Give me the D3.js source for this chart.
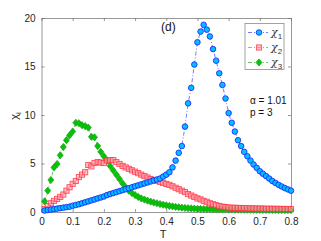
<!DOCTYPE html>
<html><head><meta charset="utf-8">
<script src="https://cdn.jsdelivr.net/npm/d3@7"></script>
<style>body{margin:0;background:#fff}svg{display:block}text{font-family:"Liberation Sans",Arial,sans-serif}</style>
</head><body><svg id="c" width="321" height="241"></svg>
<script>
const T = d3.range(1, 81).map(i => +(i * 0.01).toFixed(2));
const chi1 = [0.15,0.2,0.25,0.3,0.35,0.4,0.45,0.5,0.55,0.65,0.72,0.8,0.9,1.0,1.1,1.2,1.3,1.4,1.5,1.6,
  1.75,1.85,1.95,2.05,2.15,2.25,2.35,2.45,2.55,2.65,2.75,2.85,2.95,3.05,3.15,3.25,3.35,3.45,3.65,3.85,
  4.1,4.6,5.3,6.1,6.8,8.8,11.2,12.8,15.2,17.5,18.6,19.3,18.8,18.1,16.8,15.6,14.3,13.1,11.7,10.2,
  9.2,8.3,7.4,6.8,6.2,5.75,5.3,4.9,4.55,4.2,3.95,3.7,3.45,3.2,3.0,2.8,2.63,2.47,2.33,2.2];
const chi2 = [0.3,0.6,0.9,1.15,1.35,1.55,1.8,2.2,2.55,2.9,3.2,3.6,3.85,4.1,4.85,4.7,5.05,5.15,5.1,5.05,
  5.3,5.35,5.35,5.15,4.95,4.75,4.6,4.45,4.3,4.15,4.0,3.85,3.7,3.55,3.4,3.3,3.2,3.1,3.0,2.9,
  2.8,2.65,2.5,2.35,2.2,2.05,1.85,1.7,1.55,1.4,1.3,1.15,1.05,0.9,0.8,0.7,0.62,0.55,0.5,0.46,
  0.44,0.43,0.42,0.41,0.4,0.39,0.38,0.37,0.36,0.36,0.35,0.34,0.34,0.33,0.33,0.32,0.32,0.31,0.31,0.3];
const chi3 = [1.1,2.2,3.3,4.6,4.95,5.85,6.7,7.4,7.9,8.3,9.2,9.15,8.95,8.85,8.7,7.75,7.7,6.8,6.2,5.75,
  5.3,4.75,4.3,3.85,3.4,2.95,2.55,2.2,1.95,1.75,1.55,1.4,1.28,1.17,1.07,0.98,0.9,0.82,0.75,0.69,
  0.63,0.58,0.53,0.49,0.45,0.42,0.39,0.37,0.35,0.33,0.32,0.31,0.3,0.29,0.28,0.27,0.27,0.26,0.26,0.25,
  0.25,0.24,0.24,0.24,0.23,0.23,0.23,0.22,0.22,0.22,0.22,0.21,0.21,0.21,0.21,0.2,0.2,0.2,0.2,0.2];
const xTicks = [0,0.1,0.2,0.3,0.4,0.5,0.6,0.7,0.8];
const yTicks = [0,5,10,15,20];

const svg = d3.select("#c");
const L = 41.5, R = 291, Tp = 18, B = 212;
const x = d3.scaleLinear().domain([0, 0.8]).range([L, R]);
const y = d3.scaleLinear().domain([0, 20]).range([B, Tp]);
const axisCol = "#6b6b6b", txtCol = "#262626";

svg.append("rect").attr("x", L).attr("y", Tp).attr("width", R - L).attr("height", B - Tp).attr("fill", "#fff");

// axes
const gx = svg.append("g").attr("transform", `translate(0,${B})`)
  .call(d3.axisBottom(x).tickValues(xTicks).tickFormat(d => d === 0 ? "0" : d3.format(".1f")(d)).tickSizeInner(-3).tickSizeOuter(0).tickPadding(6));
const gxt = svg.append("g").attr("transform", `translate(0,${Tp})`)
  .call(d3.axisTop(x).tickValues(xTicks).tickFormat("").tickSizeInner(-3).tickSizeOuter(0));
const gy = svg.append("g").attr("transform", `translate(${L},0)`)
  .call(d3.axisLeft(y).tickValues(yTicks).tickSizeInner(-3).tickSizeOuter(0).tickPadding(6));
const gyr = svg.append("g").attr("transform", `translate(${R},0)`)
  .call(d3.axisRight(y).tickValues(yTicks).tickFormat("").tickSizeInner(-3).tickSizeOuter(0));
[gx, gxt, gy, gyr].forEach(g => {
  g.selectAll("path").attr("stroke", axisCol).attr("stroke-width", 0.7);
  g.selectAll("line").attr("stroke", axisCol).attr("stroke-width", 0.7);
  g.selectAll("text").attr("fill", txtCol).style("font-size", "10px").style("font-family", "Liberation Sans, Arial, sans-serif");
});

const series = [
  {name: "1", data: chi1, line: "#3b3bff", fill: "#00bfff", stroke: "#1a1aff", shape: "circle"},
  {name: "2", data: chi2, line: "#ff4d4d", fill: "#ff9aa6", stroke: "#ff2d3d", shape: "square"},
  {name: "3", data: chi3, line: "#2fa82f", fill: "#00c800", stroke: "#1f9a1f", shape: "diamond"}
];
function marker(g, s, cx, cy) {
  if (s.shape === "circle") g.append("circle").attr("cx", cx).attr("cy", cy).attr("r", 2.8)
    .attr("fill", s.fill).attr("stroke", s.stroke).attr("stroke-width", 0.8);
  else if (s.shape === "square") g.append("rect").attr("x", cx - 2.6).attr("y", cy - 2.6).attr("width", 5.2).attr("height", 5.2)
    .attr("fill", s.fill).attr("fill-opacity", 0.6).attr("stroke", s.stroke).attr("stroke-opacity", 0.8).attr("stroke-width", 0.9);
  else g.append("path").attr("d", `M${cx},${cy-3.6}L${cx+3},${cy}L${cx},${cy+3.6}L${cx-3},${cy}Z`)
    .attr("fill", s.fill).attr("stroke", s.stroke).attr("stroke-width", 0.7);
}
const line = d3.line().x((d, i) => x(T[i])).y(d => y(d));
series.forEach(s => {
  svg.append("path").datum(s.data).attr("d", line).attr("fill", "none")
    .attr("stroke", s.line).attr("stroke-width", 0.7).attr("stroke-dasharray", "4,2,1,2");
});
[series[2], series[1], series[0]].forEach(s => {
  const g = svg.append("g");
  s.data.forEach((v, i) => marker(g, s, x(T[i]), y(v)));
});

// legend
const lg = svg.append("g");
lg.append("rect").attr("x", 245).attr("y", 23.5).attr("width", 39).attr("height", 46)
  .attr("fill", "#fff").attr("stroke", "#8c8c8c").attr("stroke-width", 0.8);
series.forEach((s, i) => {
  const yy = 32.5 + i * 15;
  lg.append("line").attr("x1", 248).attr("x2", 268).attr("y1", yy).attr("y2", yy)
    .attr("stroke", s.line).attr("stroke-width", 0.7).attr("stroke-dasharray", "4,2,1,2");
  marker(lg, s, 259, yy);
  const t = lg.append("text").attr("x", 271).attr("y", yy + 3).attr("fill", "#333").style("font-size", "11px").style("font-family", "DejaVu Serif, serif").style("font-style", "italic");
  t.append("tspan").text("χ");
  t.append("tspan").attr("dy", 3).style("font-size", "8px").style("font-style", "normal").style("font-family", "Liberation Sans, sans-serif").text(s.name);
});

svg.append("text").attr("x", 161).attr("y", 31).attr("fill", "#111").style("font-size", "12px").text("(d)");
svg.append("text").attr("x", 250).attr("y", 104).attr("fill", "#111").style("font-size", "10px").text("α = 1.01");
svg.append("text").attr("x", 250).attr("y", 116).attr("fill", "#111").style("font-size", "10px").text("p = 3");

svg.append("text").attr("x", 163).attr("y", 238).attr("text-anchor", "middle").attr("fill", txtCol).style("font-size", "11px").text("T");
const yl = svg.append("text").attr("transform", "translate(18,116) rotate(-90)").attr("text-anchor", "middle").attr("fill", txtCol).style("font-size", "11px");
yl.append("tspan").text("χ");
yl.append("tspan").attr("dy", 3).style("font-size", "8px").text("i");
</script></body></html>
